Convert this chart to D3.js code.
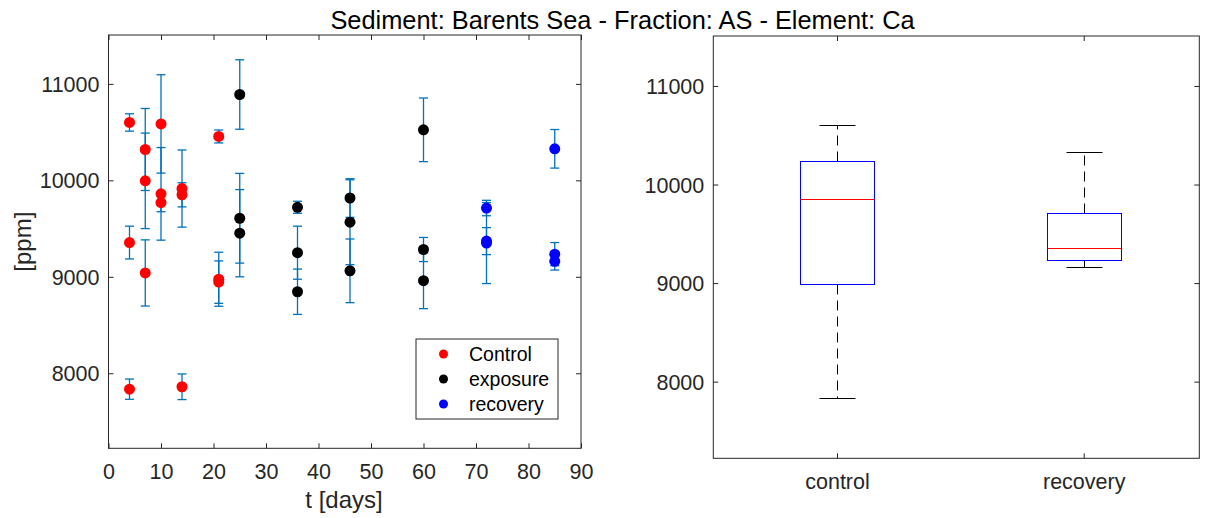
<!DOCTYPE html>
<html><head><meta charset="utf-8">
<script src="https://cdn.jsdelivr.net/npm/d3@7"></script>
<style>body{margin:0;background:#fff}svg{display:block;font-family:"Liberation Sans",Arial,Helvetica,sans-serif}</style>
</head><body>
<script>
// ---- data ----
const controlT   = [4,4,4, 7,7,7, 10,10,10, 14,14,14, 21,21,21];
const controlV   = [10600,9355,7835, 10320,9995,9040, 10585,9860,9770, 9915,9850,7860, 10455,8975,8945];
const controlE   = [90,170,105, 425,495,343, 510,480,95, 400,125,133, 67,280,220];
const exposureT  = [25,25,25, 36,36,36, 46,46,46, 60,60];
const exposureV  = [10890,9607,9452, 9721,9250,8845, 9817,9566,9062, 10524,9283];
const exposureE  = [360,465,452, 62,275,235, 200,440,330, 330,125];
const exposure2T = [60];
const exposure2V = [8960];
const exposure2E = [290];
const recoveryT  = [72,72,72, 85,85,85];
const recoveryV  = [9713,9370,9350, 10327,9235,9160];
const recoveryE  = [80,140,420, 200,120,90];
const xTicks = [0,10,20,30,40,50,60,70,80,90];
const yTicks = [8000,9000,10000,11000];
const boxCats = ["control","recovery"];
const title = "Sediment: Barents Sea - Fraction: AS - Element: Ca";
const legendLabels = ["Control","exposure","recovery"];
const seriesColors = ["#ff0000","#000000","#0000ff"];

const W=1208,H=518, axCol="#262626", ebCol="#0072BD", FS=21.5;
const svg=d3.select("body").append("svg").attr("width",W).attr("height",H);

svg.append("text").attr("x",622.5).attr("y",28.5).attr("text-anchor","middle")
  .attr("font-size",25.4).attr("fill","#000").text(title);

// ---- left panel ----
const L={l:108.5,r:581,t:35,b:448.3};
const x=d3.scaleLinear().domain([0,90]).range([L.l,L.r]);
const y=d3.scaleLinear().domain([7222,11507]).range([L.b,L.t]);
const gL=svg.append("g");
function frame(g,box){
  g.append("rect").attr("x",box.l).attr("y",box.t).attr("width",box.r-box.l).attr("height",box.b-box.t)
   .attr("fill","none").attr("stroke",axCol).attr("stroke-width",1);
}
frame(gL,L);
const ax1=gL.append("g").attr("transform",`translate(0,${L.b})`)
 .call(d3.axisBottom(x).tickValues(xTicks).tickSizeInner(-5).tickSizeOuter(0).tickPadding(10));
const ax1t=gL.append("g").attr("transform",`translate(0,${L.t})`)
 .call(d3.axisTop(x).tickValues(xTicks).tickSizeInner(-5).tickSizeOuter(0).tickFormat(""));
const ay1=gL.append("g").attr("transform",`translate(${L.l},0)`)
 .call(d3.axisLeft(y).tickValues(yTicks).tickSizeInner(-5).tickSizeOuter(0).tickPadding(9).tickFormat(d3.format("d")));
const ay1r=gL.append("g").attr("transform",`translate(${L.r},0)`)
 .call(d3.axisRight(y).tickValues(yTicks).tickSizeInner(-5).tickSizeOuter(0).tickFormat(""));
[ax1,ax1t,ay1,ay1r].forEach(a=>{a.select(".domain").remove();a.selectAll("line").attr("stroke",axCol);
  a.selectAll("text").attr("fill",axCol).attr("font-size",FS).attr("font-family","Liberation Sans, Arial, sans-serif");});
ay1.selectAll("text").attr("dy","0.35em");
ax1.selectAll("text").attr("dy","0").attr("y",31);

gL.append("text").attr("x",344).attr("y",508).attr("text-anchor","middle").attr("font-size",24).attr("fill",axCol).text("t [days]");
gL.append("text").attr("transform",`translate(31,${(L.t+L.b)/2}) rotate(-90)`).attr("text-anchor","middle").attr("font-size",24).attr("fill",axCol).text("[ppm]");

const series=[
  {t:controlT,v:controlV,e:controlE,c:seriesColors[0]},
  {t:exposureT,v:exposureV,e:exposureE,c:seriesColors[1]},
  {t:exposure2T,v:exposure2V,e:exposure2E,c:seriesColors[1]},
  {t:recoveryT,v:recoveryV,e:recoveryE,c:seriesColors[2]}
];
const eg=gL.append("g").attr("stroke",ebCol).attr("stroke-width",1.3);
series.forEach(s=>{
  s.t.forEach((t,i)=>{
    const cx=x(t), v=s.v[i], e=s.e[i];
    eg.append("line").attr("x1",cx).attr("x2",cx).attr("y1",y(v-e)).attr("y2",y(v+e));
    eg.append("line").attr("x1",cx-4.5).attr("x2",cx+4.5).attr("y1",y(v-e)).attr("y2",y(v-e));
    eg.append("line").attr("x1",cx-4.5).attr("x2",cx+4.5).attr("y1",y(v+e)).attr("y2",y(v+e));
  });
});
series.forEach(s=>{
  gL.append("g").selectAll("circle").data(s.t.map((t,i)=>[t,s.v[i]])).join("circle")
    .attr("cx",d=>x(d[0])).attr("cy",d=>y(d[1])).attr("r",5.5).attr("fill",s.c);
});

// legend
const lg=gL.append("g");
lg.append("rect").attr("x",416).attr("y",339).attr("width",142).attr("height",80).attr("fill","#fff").attr("stroke",axCol).attr("stroke-width",1);
legendLabels.forEach((lab,i)=>{
  const yy=354+i*25;
  lg.append("circle").attr("cx",443.5).attr("cy",yy).attr("r",4.5).attr("fill",seriesColors[i]);
  lg.append("text").attr("x",469).attr("y",yy).attr("dy","0.35em").attr("font-size",19.5).attr("fill","#000").text(lab);
});

// ---- right panel (boxplot) ----
const R={l:713.3,r:1199.3,t:36,b:458.3};
const xb=d3.scalePoint().domain(boxCats).range([837,1083.7]);
const yb=d3.scaleLinear().domain([7222,11507]).range([R.b,R.t]);
const gR=svg.append("g");
frame(gR,R);
const bx=gR.append("g").attr("transform",`translate(0,${R.b})`)
 .call(d3.axisBottom(xb).tickSizeInner(-5).tickSizeOuter(0));
const bxt=gR.append("g").attr("transform",`translate(0,${R.t})`)
 .call(d3.axisTop(xb).tickSizeInner(-5).tickSizeOuter(0).tickFormat(""));
const by=gR.append("g").attr("transform",`translate(${R.l},0)`)
 .call(d3.axisLeft(yb).tickValues(yTicks).tickSizeInner(-5).tickSizeOuter(0).tickPadding(9).tickFormat(d3.format("d")));
const byr=gR.append("g").attr("transform",`translate(${R.r},0)`)
 .call(d3.axisRight(yb).tickValues(yTicks).tickSizeInner(-5).tickSizeOuter(0).tickFormat(""));
[bx,bxt,by,byr].forEach(a=>{a.select(".domain").remove();a.selectAll("line").attr("stroke",axCol);
  a.selectAll("text").attr("fill",axCol).attr("font-size",FS).attr("font-family","Liberation Sans, Arial, sans-serif");});
by.selectAll("text").attr("dy","0.35em");
bx.selectAll("text").attr("dy","0").attr("y",31);

function q(sorted,p){ // MATLAB prctile method
  const n=sorted.length; let pos=p*n+0.5;
  if(pos<=1) return sorted[0]; if(pos>=n) return sorted[n-1];
  const lo=Math.floor(pos), f=pos-lo; return sorted[lo-1]+f*(sorted[lo]-sorted[lo-1]);
}
const px=v=>Math.round(v)+0.5; // crisp 1px lines
const groups=[controlV,recoveryV];
groups.forEach((vals,i)=>{
  const s=vals.slice().sort((a,b)=>a-b);
  const q1=q(s,0.25),md=q(s,0.5),q3=q(s,0.75),mn=s[0],mx=s[s.length-1];
  const cx=px(xb(boxCats[i])), hw=37, cw=18;
  const g=gR.append("g");
  g.append("line").attr("x1",cx).attr("x2",cx).attr("y1",px(yb(q3))).attr("y2",px(yb(mx))).attr("stroke","#000").attr("stroke-dasharray","10,6").attr("stroke-width",1);
  g.append("line").attr("x1",cx).attr("x2",cx).attr("y1",px(yb(q1))).attr("y2",px(yb(mn))).attr("stroke","#000").attr("stroke-dasharray","10,6").attr("stroke-width",1);
  [mn,mx].forEach(v=>g.append("line").attr("x1",cx-cw).attr("x2",cx+cw).attr("y1",px(yb(v))).attr("y2",px(yb(v))).attr("stroke","#000").attr("stroke-width",1));
  g.append("rect").attr("x",cx-hw).attr("width",2*hw).attr("y",px(yb(q3))).attr("height",px(yb(q1))-px(yb(q3))).attr("fill","none").attr("stroke","#0000ff").attr("stroke-width",1);
  g.append("line").attr("x1",cx-hw).attr("x2",cx+hw).attr("y1",px(yb(md))).attr("y2",px(yb(md))).attr("stroke","#ff0000").attr("stroke-width",1);
});
</script>
</body></html>
